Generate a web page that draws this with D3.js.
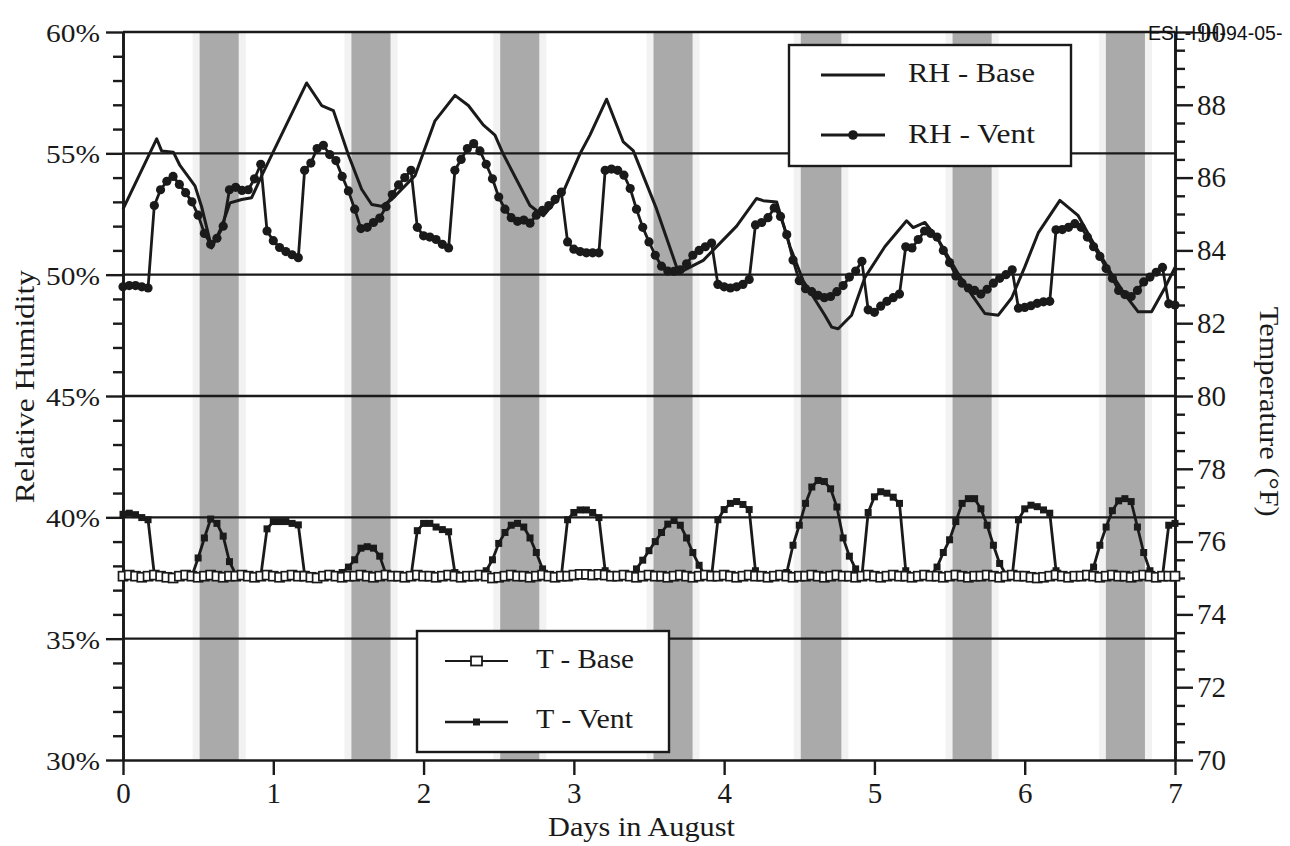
<!DOCTYPE html>
<html><head><meta charset="utf-8">
<script src="https://cdn.jsdelivr.net/npm/d3@7"></script>
<style>html,body{margin:0;padding:0;background:#fff;} svg{display:block;}</style>
</head><body><svg id="chart" width="1290" height="846"></svg>
<script>
// ---------------- data ----------------
const rhTicks = [30, 35, 40, 45, 50, 55, 60];
const tempTicks = [70, 72, 74, 76, 78, 80, 82, 84, 86, 88, 90];
const dayTicks = [0, 1, 2, 3, 4, 5, 6, 7];
const bandStart = [0.51, 1.52, 2.51, 3.53, 4.51, 5.52, 6.54];
const bandEnd   = [0.77, 1.78, 2.77, 3.79, 4.78, 5.78, 6.80];
const hoursPerDay = 24;

// RH - Base (line only): breakpoints [day], [RH %]
const rhBaseDay = [0, 0.224, 0.257, 0.335, 0.379, 0.479, 0.523, 0.59, 0.656, 0.712, 0.79, 0.856, 0.923,
  1.222, 1.322, 1.4, 1.5, 1.588, 1.655, 1.72, 1.788, 1.943, 2.076, 2.209, 2.298, 2.397, 2.475, 2.53,
  2.708, 2.797, 2.93, 3.04, 3.107, 3.218, 3.329, 3.395, 3.55, 3.684, 3.728, 3.861, 4.083, 4.216, 4.26,
  4.35, 4.438, 4.526, 4.67, 4.715, 4.759, 4.848, 4.937, 5.07, 5.214, 5.258, 5.336, 5.425, 5.558, 5.647,
  5.735, 5.824, 5.913, 6.0, 6.09, 6.234, 6.356, 6.445, 6.578, 6.667, 6.755, 6.844, 6.933, 7.0];
const rhBaseVal = [52.7, 55.6, 55.1, 55.05, 54.5, 53.66, 52.8, 51.1, 51.97, 52.96, 53.1, 53.17, 54.08,
  57.9, 56.97, 56.76, 54.93, 53.52, 52.89, 52.82, 53.1, 54.08, 56.34, 57.39, 56.97, 56.17, 55.75, 54.97,
  52.85, 52.43, 53.42, 54.97, 55.75, 57.23, 55.47, 55.11, 52.71, 50.31, 50.17, 50.59, 52.0, 53.14, 53.05,
  52.99, 51.16, 49.75, 48.33, 47.84, 47.77, 48.33, 49.89, 51.16, 52.22, 51.94, 52.15, 51.44, 50.03, 49.18,
  48.4, 48.33, 49.04, 50.31, 51.72, 53.06, 52.43, 51.44, 50.03, 49.18, 48.47, 48.47, 49.46, 50.3];

// RH - Vent, hourly from day 0
const rhVent = [
  49.5, 49.55, 49.55, 49.5, 49.45, 52.85, 53.5, 53.85, 54.05, 53.72, 53.38, 53.0, 52.45, 51.7, 51.25, 51.5, 52.0, 53.5, 53.6, 53.47, 53.5, 53.95, 54.55, 51.8,
  51.4, 51.12, 50.95, 50.82, 50.7, 54.3, 54.6, 55.2, 55.33, 54.95, 54.7, 54.05, 53.45, 52.7, 51.9, 51.95, 52.15, 52.33, 52.8, 53.3, 53.7, 54.0, 54.3, 51.95,
  51.6, 51.55, 51.45, 51.25, 51.1, 54.3, 54.75, 55.2, 55.4, 55.1, 54.55, 53.95, 53.2, 52.7, 52.35, 52.2, 52.25, 52.12, 52.45, 52.65, 52.85, 53.1, 53.4, 51.35,
  51.05, 50.95, 50.9, 50.9, 50.9, 54.3, 54.35, 54.3, 54.1, 53.55, 52.7, 51.95, 51.35, 50.8, 50.35, 50.15, 50.14, 50.2, 50.45, 50.8, 51.0, 51.15, 51.3, 49.6,
  49.5, 49.45, 49.5, 49.6, 49.8, 52.05, 52.15, 52.35, 52.75, 52.4, 51.65, 50.6, 49.75, 49.42, 49.3, 49.15, 49.05, 49.1, 49.3, 49.55, 49.9, 50.15, 50.55, 48.55,
  48.45, 48.7, 48.9, 49.05, 49.2, 51.15, 51.1, 51.45, 51.8, 51.7, 51.55, 51.0, 50.5, 49.95, 49.65, 49.45, 49.35, 49.2, 49.4, 49.65, 49.85, 50.0, 50.2, 48.62,
  48.65, 48.72, 48.82, 48.88, 48.9, 51.85, 51.86, 51.95, 52.1, 51.95, 51.55, 51.15, 50.75, 50.25, 49.85, 49.35, 49.18, 49.1, 49.35, 49.7, 49.9, 50.1, 50.3, 48.8,
  48.75];

// T - Vent (°F), hourly
const tVent = [
  76.75, 76.78, 76.74, 76.66, 76.6, 75.1, 75.05, 75.05, 75.05, 75.05, 75.05, 75.05, 75.55, 76.1, 76.62, 76.5, 76.15, 75.45, 75.1, 75.05, 75.05, 75.05, 75.05, 76.35,
  76.55, 76.55, 76.55, 76.5, 76.46, 75.1, 75.05, 75.05, 75.05, 75.05, 75.05, 75.15, 75.3, 75.5, 75.82, 75.86, 75.82, 75.6, 75.1, 75.05, 75.05, 75.05, 75.05, 76.3,
  76.5, 76.5, 76.4, 76.33, 76.27, 75.15, 75.05, 75.05, 75.05, 75.05, 75.2, 75.5, 75.95, 76.25, 76.45, 76.5, 76.4, 76.1, 75.7, 75.25, 75.05, 75.05, 75.05, 76.6,
  76.8, 76.87, 76.87, 76.8, 76.66, 75.2, 75.05, 75.05, 75.05, 75.05, 75.25, 75.49, 75.75, 76.0, 76.25, 76.48, 76.58, 76.45, 76.1, 75.7, 75.35, 75.05, 75.05, 76.6,
  76.88, 77.05, 77.1, 77.02, 76.88, 75.2, 75.05, 75.05, 75.05, 75.05, 75.15, 75.9, 76.45, 77.05, 77.5, 77.68, 77.65, 77.45, 76.95, 76.1, 75.6, 75.25, 75.05, 76.8,
  77.23, 77.37, 77.33, 77.22, 77.05, 75.2, 75.05, 75.05, 75.05, 75.05, 75.3, 75.7, 76.05, 76.55, 77.05, 77.18, 77.18, 76.9, 76.45, 75.9, 75.4, 75.1, 75.05, 76.6,
  76.9, 77.0, 76.96, 76.87, 76.78, 75.2, 75.05, 75.05, 75.05, 75.05, 75.1, 75.3, 75.9, 76.4, 76.85, 77.12, 77.18, 77.1, 76.4, 75.7, 75.2, 75.05, 75.05, 76.45,
  76.5];

// T - Base (°F), hourly
const tBase = [
  75.05, 75.08, 75.05, 75.02, 75.05, 75.08, 75.05, 75.02, 75.0, 75.05, 75.08, 75.05, 75.02, 75.05, 75.08, 75.05, 75.02, 75.05, 75.05, 75.08, 75.05, 75.02, 75.05, 75.08,
  75.05, 75.02, 75.05, 75.08, 75.05, 75.05, 75.02, 75.0, 75.05, 75.08, 75.05, 75.02, 75.05, 75.05, 75.08, 75.05, 75.02, 75.05, 75.08, 75.05, 75.05, 75.02, 75.05, 75.08,
  75.05, 75.05, 75.02, 75.05, 75.08, 75.05, 75.02, 75.05, 75.05, 75.08, 75.05, 75.0, 75.02, 75.05, 75.08, 75.05, 75.05, 75.02, 75.05, 75.08, 75.05, 75.02, 75.05, 75.05,
  75.08, 75.1, 75.1, 75.08, 75.1, 75.08, 75.05, 75.05, 75.08, 75.05, 75.02, 75.05, 75.08, 75.05, 75.05, 75.02, 75.05, 75.08, 75.05, 75.02, 75.05, 75.08, 75.05, 75.05,
  75.08, 75.05, 75.02, 75.05, 75.08, 75.05, 75.05, 75.02, 75.05, 75.08, 75.05, 75.02, 75.05, 75.05, 75.08, 75.05, 75.02, 75.05, 75.08, 75.05, 75.05, 75.02, 75.05, 75.08,
  75.05, 75.02, 75.05, 75.08, 75.05, 75.05, 75.02, 75.05, 75.08, 75.05, 75.05, 75.02, 75.05, 75.08, 75.05, 75.02, 75.05, 75.05, 75.08, 75.05, 75.02, 75.05, 75.08, 75.05,
  75.05, 75.02, 75.0, 75.02, 75.05, 75.08, 75.05, 75.02, 75.05, 75.05, 75.08, 75.05, 75.02, 75.05, 75.08, 75.05, 75.05, 75.02, 75.05, 75.08, 75.05, 75.02, 75.05, 75.05,
  75.05];

// ---------------- drawing ----------------
const ink = "#1a1a1a";
const serif = "'Liberation Serif','Times New Roman',serif";
const svg = d3.select("#chart");

const x = d3.scaleLinear().domain([0, 7]).range([123, 1175]);
const yRH = d3.scaleLinear().domain([30, 60]).range([760, 32]);
const yT = d3.scaleLinear().domain([70, 90]).range([760, 32]);

// shaded bands (soft halo + core)
const gBand = svg.append("g");
gBand.selectAll("rect.halo").data(bandStart).join("rect").attr("class", "halo")
  .attr("x", d => x(d) - 7).attr("width", (d, i) => x(bandEnd[i]) - x(d) + 14)
  .attr("y", yRH(60)).attr("height", yRH(30) - yRH(60)).attr("fill", "#f2f2f2");
gBand.selectAll("rect.core").data(bandStart).join("rect").attr("class", "core")
  .attr("x", d => x(d)).attr("width", (d, i) => x(bandEnd[i]) - x(d))
  .attr("y", yRH(60)).attr("height", yRH(30) - yRH(60)).attr("fill", "#aaaaaa");

// gridlines
svg.append("g").selectAll("line").data(rhTicks.filter(v => v > 30)).join("line")
  .attr("x1", x(0)).attr("x2", x(7)).attr("y1", d => yRH(d)).attr("y2", d => yRH(d))
  .attr("stroke", ink).attr("stroke-width", 2.4);

// axes
function styleAxis(g) {
  g.selectAll("path.domain").attr("stroke", ink).attr("stroke-width", 2.6);
  g.selectAll(".tick line").attr("stroke", ink).attr("stroke-width", 2.4);
  g.selectAll(".tick text").attr("fill", ink).attr("font-family", serif).attr("font-size", 29);
}
const rhMinor = d3.range(30, 61).filter(v => v % 5 !== 0);
const tMinor = d3.range(70, 90.01, 0.5).filter(v => v % 2 !== 0);

svg.append("g").attr("transform", `translate(${x(0)},0)`)
  .call(d3.axisLeft(yRH).tickValues(rhMinor).tickSize(10).tickSizeOuter(0).tickFormat("")).call(styleAxis);
const gLeft = svg.append("g").attr("transform", `translate(${x(0)},0)`)
  .call(d3.axisLeft(yRH).tickValues(rhTicks).tickSize(17).tickPadding(6).tickSizeOuter(0).tickFormat(d => d + "%"))
  .call(styleAxis);
gLeft.selectAll(".tick text").attr("transform", "scale(1,0.86)").attr("dy", "0.38em")
  .attr("textLength", 54).attr("lengthAdjust", "spacingAndGlyphs");

svg.append("g").attr("transform", `translate(${x(7)},0)`)
  .call(d3.axisRight(yT).tickValues(tMinor).tickSize(10).tickSizeOuter(0).tickFormat("")).call(styleAxis);
svg.append("g").attr("transform", `translate(${x(7)},0)`)
  .call(d3.axisRight(yT).tickValues(tempTicks).tickSize(18).tickPadding(4).tickSizeOuter(0).tickFormat(d3.format("d")))
  .call(styleAxis);

svg.append("g").attr("transform", `translate(0,${yRH(30)})`)
  .call(d3.axisBottom(x).tickValues(dayTicks).tickSize(15).tickPadding(7).tickSizeOuter(0).tickFormat(d3.format("d")))
  .call(styleAxis);

// series
const lineRHb = d3.line().x((d, i) => x(rhBaseDay[i])).y(d => yRH(d));
svg.append("path").datum(rhBaseVal).attr("d", lineRHb)
  .attr("fill", "none").attr("stroke", ink).attr("stroke-width", 3).attr("stroke-linejoin", "round");

const lineRHv = d3.line().x((d, i) => x(i / hoursPerDay)).y(d => yRH(d));
svg.append("path").datum(rhVent).attr("d", lineRHv)
  .attr("fill", "none").attr("stroke", ink).attr("stroke-width", 2.8).attr("stroke-linejoin", "round");
svg.append("g").selectAll("circle").data(rhVent).join("circle")
  .attr("cx", (d, i) => x(i / hoursPerDay)).attr("cy", d => yRH(d)).attr("r", 4.6).attr("fill", ink);

const lineT = d3.line().x((d, i) => x(i / hoursPerDay)).y(d => yT(d));
svg.append("path").datum(tVent).attr("d", lineT)
  .attr("fill", "none").attr("stroke", ink).attr("stroke-width", 2.8).attr("stroke-linejoin", "round");
svg.append("g").selectAll("rect").data(tVent).join("rect")
  .attr("x", (d, i) => x(i / hoursPerDay) - 3.5).attr("y", d => yT(d) - 3.5)
  .attr("width", 7).attr("height", 7).attr("fill", ink);

svg.append("path").datum(tBase).attr("d", lineT)
  .attr("fill", "none").attr("stroke", ink).attr("stroke-width", 2);
svg.append("g").selectAll("rect").data(tBase).join("rect")
  .attr("x", (d, i) => x(i / hoursPerDay) - 4.5).attr("y", d => yT(d) - 4.5)
  .attr("width", 9).attr("height", 9).attr("fill", "#fff").attr("stroke", ink).attr("stroke-width", 1.7);

// text helper (stretch to measured width)
function label(g, txt, size, len) {
  const t = g.append("text").text(txt).attr("font-family", serif).attr("font-size", size).attr("fill", ink);
  if (len) t.attr("textLength", len).attr("lengthAdjust", "spacingAndGlyphs");
  return t;
}

// legend RH
const lg1 = svg.append("g");
lg1.append("rect").attr("x", 789).attr("y", 45).attr("width", 282).attr("height", 121)
  .attr("fill", "#fff").attr("stroke", ink).attr("stroke-width", 2.4);
lg1.append("line").attr("x1", 821).attr("x2", 885).attr("y1", 75).attr("y2", 75).attr("stroke", ink).attr("stroke-width", 2.8);
lg1.append("line").attr("x1", 821).attr("x2", 885).attr("y1", 135).attr("y2", 135).attr("stroke", ink).attr("stroke-width", 2.8);
lg1.append("circle").attr("cx", 853).attr("cy", 135).attr("r", 4.8).attr("fill", ink);
label(lg1, "RH - Base", 28, 127).attr("x", 908).attr("y", 82);
label(lg1, "RH - Vent", 28, 127).attr("x", 908).attr("y", 143);

// legend T
const lg2 = svg.append("g");
lg2.append("rect").attr("x", 417).attr("y", 631).attr("width", 252).attr("height", 121)
  .attr("fill", "#fff").attr("stroke", ink).attr("stroke-width", 2.4);
lg2.append("line").attr("x1", 445).attr("x2", 508).attr("y1", 661).attr("y2", 661).attr("stroke", ink).attr("stroke-width", 2);
lg2.append("rect").attr("x", 471).attr("y", 656.5).attr("width", 11).attr("height", 9)
  .attr("fill", "#fff").attr("stroke", ink).attr("stroke-width", 1.8);
lg2.append("line").attr("x1", 445).attr("x2", 508).attr("y1", 722).attr("y2", 722).attr("stroke", ink).attr("stroke-width", 2.4);
lg2.append("rect").attr("x", 473).attr("y", 718.5).attr("width", 7).attr("height", 7).attr("fill", ink);
label(lg2, "T - Base", 28, 98).attr("x", 536).attr("y", 668);
label(lg2, "T - Vent", 28, 97).attr("x", 536).attr("y", 728);

// axis titles
label(svg, "Days in August", 28, 187).attr("x", 548).attr("y", 836);
label(svg, "Relative Humidity", 28, 233).attr("text-anchor", "middle")
  .attr("transform", "translate(34,386.5) rotate(-90)");
label(svg, "Temperature (°F)", 28, 210).attr("text-anchor", "middle")
  .attr("transform", "translate(1260,411.7) rotate(90)");

// document stamp
svg.append("text").text("ESL-HH-94-05-").attr("x", 1148).attr("y", 40)
  .attr("font-family", "'Liberation Sans',Arial,sans-serif").attr("font-size", 19.5).attr("fill", "#111");
</script>
</body></html>
